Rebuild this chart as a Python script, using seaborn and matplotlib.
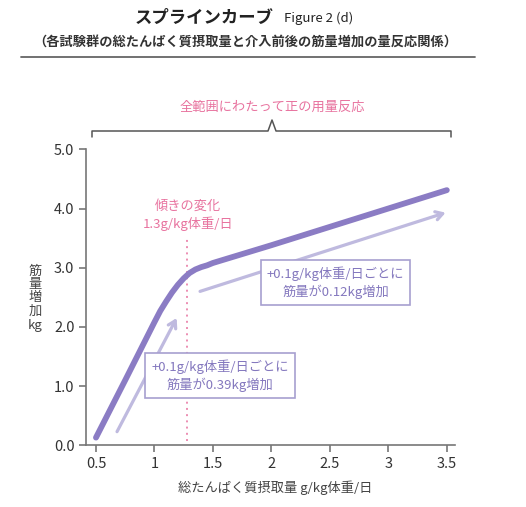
import matplotlib
matplotlib.use("Agg")
import matplotlib.pyplot as plt
import seaborn as sns
import pandas as pd
from matplotlib.patches import FancyArrowPatch

sns.set_theme(style="white")
plt.rcParams['font.family'] = ['Noto Sans CJK JP', 'DejaVu Sans']

# Data
intake = [0.5, 0.75, 1.0, 1.05, 1.1, 1.15, 1.2, 1.25, 1.3, 1.35, 1.4, 1.45, 1.5,
          2.0, 2.5, 3.0, 3.5]
gain = [0.13, 1.1, 2.08, 2.27, 2.43, 2.58, 2.71, 2.82, 2.91, 2.97, 3.01, 3.04, 3.08,
        3.38, 3.69, 4.0, 4.31]
x_ticks = [0.5, 1, 1.5, 2, 2.5, 3, 3.5]
x_tick_labels = ["0.5", "1", "1.5", "2", "2.5", "3", "3.5"]
y_ticks = [0.0, 1.0, 2.0, 3.0, 4.0, 5.0]
y_tick_labels = ["0.0", "1.0", "2.0", "3.0", "4.0", "5.0"]
knot = 1.28
arrow_low = [(0.68, 0.23), (1.19, 2.15)]
arrow_high = [(1.39, 2.6), (3.49, 3.93)]

LINE = "#8B7CC4"
ARROW = "#BFBADF"
PINK = "#E8739F"
GRAY = "#444444"
BOXTXT = "#8478BE"

df = pd.DataFrame({"x": intake, "y": gain})

fig = plt.figure(figsize=(5.26, 5.07), dpi=100)
ax = fig.add_axes([0.164, 0.1217, 0.701, 0.5838])

# arrows
for (x0, y0), (x1, y1) in [arrow_low, arrow_high]:
    ax.add_patch(FancyArrowPatch((x0, y0), (x1, y1), arrowstyle="->,head_length=5,head_width=3",
                                 color=ARROW, lw=2.3, mutation_scale=1, zorder=2,
                                 shrinkA=0, shrinkB=0))

ax.plot([knot, knot], [0.08, 3.5], color="#EC8DB2", lw=1.4, ls=(0, (1, 2.2)), zorder=1)

sns.lineplot(data=df, x="x", y="y", ax=ax, color=LINE, lw=4.2, zorder=3,
             solid_capstyle="round", solid_joinstyle="round")

ax.set_xlim(0.417, 3.57)
ax.set_ylim(0, 5.0)
ax.set_xticks(x_ticks)
ax.set_xticklabels(x_tick_labels)
ax.set_yticks(y_ticks)
ax.set_yticklabels(y_tick_labels)
for s in ["top", "right"]:
    ax.spines[s].set_visible(False)
for s in ["left", "bottom"]:
    ax.spines[s].set_color("#777777")
    ax.spines[s].set_linewidth(1.2)
ax.tick_params(axis="both", colors="#777777", labelcolor="#333333", labelsize=10.5,
               length=5, width=1.2, direction="out", bottom=True, left=True)
ax.set_xlabel("")
ax.set_ylabel("")
ax.grid(False)

# annotations
ax.text(knot + 0.01, 4.03, "傾きの変化", color=PINK, fontsize=9.5, ha="center", va="center")
ax.text(knot + 0.01, 3.74, "1.3g/kg体重/日", color=PINK, fontsize=9.5, ha="center", va="center")

ax.text(2.55, 2.75, "+0.1g/kg体重/日ごとに\n筋量が0.12kg増加", color=BOXTXT, fontsize=9.5,
        ha="center", va="center", linespacing=1.3, zorder=5,
        bbox=dict(boxstyle="square,pad=0.45", fc="white", ec="#A79FD0", lw=1.2))
ax.text(1.56, 1.18, "+0.1g/kg体重/日ごとに\n筋量が0.39kg増加", color=BOXTXT, fontsize=9.5,
        ha="center", va="center", linespacing=1.3, zorder=5,
        bbox=dict(boxstyle="square,pad=0.45", fc="white", ec="#A79FD0", lw=1.2))

# axis labels
fig.text(275 / 526, 1 - 488 / 507, "総たんぱく質摂取量 g/kg体重/日", color=GRAY, fontsize=9.5,
         ha="center", va="center")
fig.text(35 / 526, 1 - 298 / 507, "筋\n量\n増\n加\nkg", color=GRAY, fontsize=9.5,
         ha="center", va="center", linespacing=1.05)

# title
fig.text(274 / 526, 1 - 18 / 507, "スプラインカーブ", color="#222222", fontsize=12.5,
         fontweight="bold", ha="right", va="center")
fig.text(284 / 526, 1 - 18 / 507, "Figure 2 (d)", color="#222222", fontsize=9.5,
         ha="left", va="center")
fig.text(245 / 526, 1 - 42 / 507, "（各試験群の総たんぱく質摂取量と介入前後の筋量増加の量反応関係）",
         color="#333333", fontsize=9.5, fontweight="bold", ha="center", va="center")
fig.add_artist(plt.Line2D([21 / 526, 475 / 526], [1 - 57 / 507, 1 - 57 / 507],
                          color="#666666", lw=1.3))

# bracket
fig.text(272 / 526, 1 - 107 / 507, "全範囲にわたって正の用量反応", color=PINK, fontsize=9.5,
         ha="center", va="center")
by = 1 - 131 / 507
bl = 1 - 137 / 507
bp = 1 - 120 / 507
xs = [92 / 526, 92 / 526, 268 / 526, 272 / 526, 276 / 526, 451 / 526, 451 / 526]
ys = [bl, by, by, bp, by, by, bl]
fig.add_artist(plt.Line2D(xs, ys, color="#555555", lw=1.1))

fig.savefig("out.png", dpi=100, facecolor="white")
